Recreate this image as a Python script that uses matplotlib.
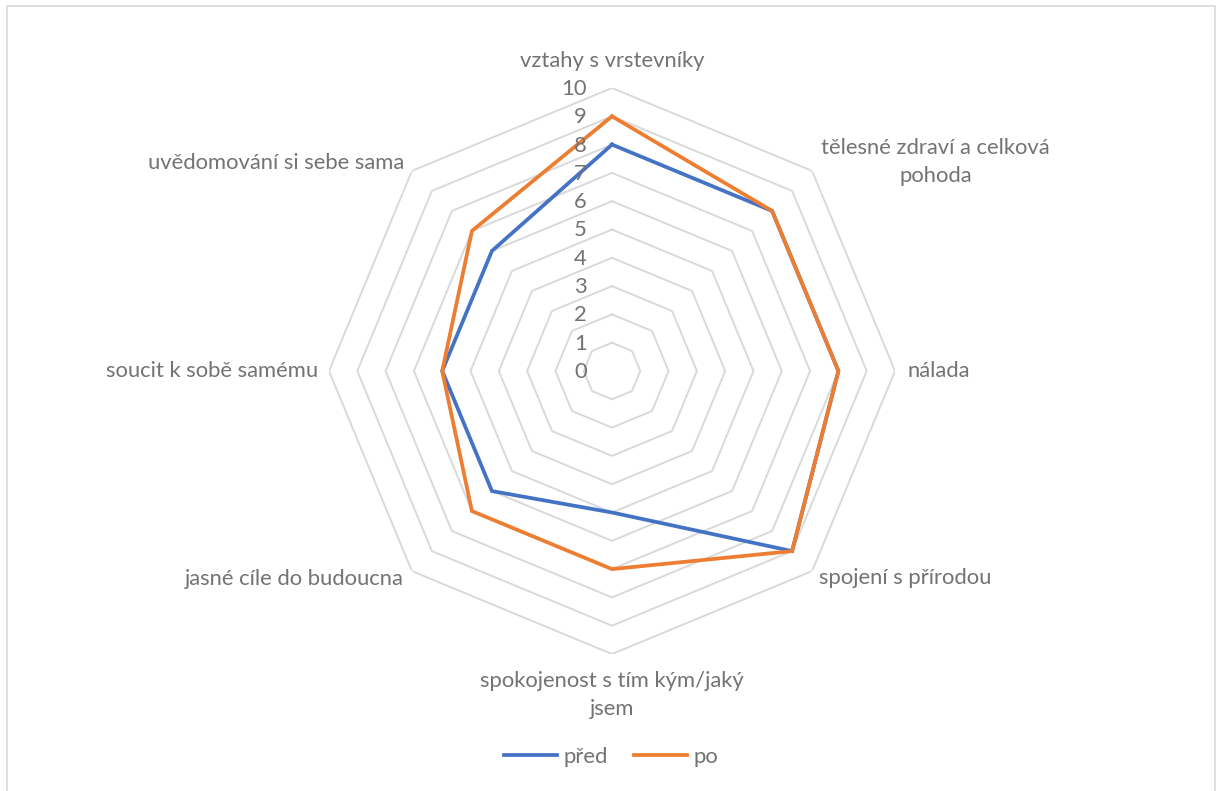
import numpy as np
import matplotlib
matplotlib.use("Agg")
import matplotlib.pyplot as plt
import matplotlib.transforms as mtransforms
from matplotlib.patches import Rectangle
from matplotlib.lines import Line2D

categories = [
    "vztahy s vrstevníky",
    "tělesné zdraví a celková\npohoda",
    "nálada",
    "spojení s přírodou",
    "spokojenost s tím kým/jaký\njsem",
    "jasné cíle do budoucna",
    "soucit k sobě samému",
    "uvědomování si sebe sama",
]
pred = [8, 8, 8, 9, 5, 6, 6, 6]
po = [9, 8, 8, 9, 7, 7, 6, 7]
series_names = ["před", "po"]
r_ticks = list(range(0, 11))

TXT = "#737373"
GRID = "#d9d9d9"
BLUE = "#4472C4"
ORANGE = "#ED7D31"
FONT = "Lato"
FS = 15.8

plt.rcParams["font.family"] = [FONT, "DejaVu Sans"]

fig = plt.figure(figsize=(12.22, 7.91), dpi=100)
W, H = 1222, 791
cx, cy, R = 612, 371, 283
ax = fig.add_axes([(cx - R) / W, (H - cy - R) / H, 2 * R / W, 2 * R / H], projection="polar")
ax.set_theta_offset(np.pi / 2)
ax.set_theta_direction(-1)
ax.set_ylim(0, 10)
ax.grid(False)
ax.spines["polar"].set_visible(False)
ax.set_xticks([])
ax.set_yticks([])
ax.patch.set_alpha(0)

n = len(categories)
angles = np.linspace(0, 2 * np.pi, n, endpoint=False)
closed = np.concatenate([angles, angles[:1]])

# octagonal gridlines
for r in r_ticks[1:]:
    ax.plot(closed, [r] * (n + 1), color=GRID, lw=1.4, zorder=1)

# series
for vals, col in [(pred, BLUE), (po, ORANGE)]:
    v = list(vals) + [vals[0]]
    ax.plot(closed, v, color=col, lw=2.7, zorder=3, solid_joinstyle="miter")

# radial tick labels
off = mtransforms.offset_copy(ax.transData, fig=fig, x=-25, y=-1, units="dots")
for r in r_ticks:
    ax.text(0, r, str(r), transform=off, ha="right", va="center",
            color=TXT, fontsize=FS, clip_on=False, zorder=4)

# category labels
label_pos = [
    (10.95, "center", "center"),
    (10.45, "left", "center"),
    (10.45, "left", "center"),
    (10.34, "left", "center"),
    (10.6, "center", "top"),
    (10.4, "right", "center"),
    (10.39, "right", "center"),
    (10.4, "right", "center"),
]
for ang, lab, (rr, ha, va) in zip(angles, categories, label_pos):
    ax.text(ang, rr, lab, ha=ha, va=va, multialignment="center",
            color=TXT, fontsize=FS, clip_on=False, linespacing=1.5)

# legend
handles = [Line2D([], [], color=BLUE, lw=2.7), Line2D([], [], color=ORANGE, lw=2.7)]
leg = fig.legend(handles, series_names, loc="center", bbox_to_anchor=(0.5, 1 - 757 / H),
                 ncol=2, frameon=False, fontsize=FS, handlelength=2.4,
                 handletextpad=0.3, columnspacing=1.2)
for t in leg.get_texts():
    t.set_color(TXT)

# chart border
fig.patches.append(Rectangle((7 / W, -0.02), (1215 - 7) / W, 1 - 6 / H + 0.02,
                             transform=fig.transFigure, fill=False,
                             edgecolor=GRID, lw=1.2))

fig.savefig("out.png", dpi=100)
